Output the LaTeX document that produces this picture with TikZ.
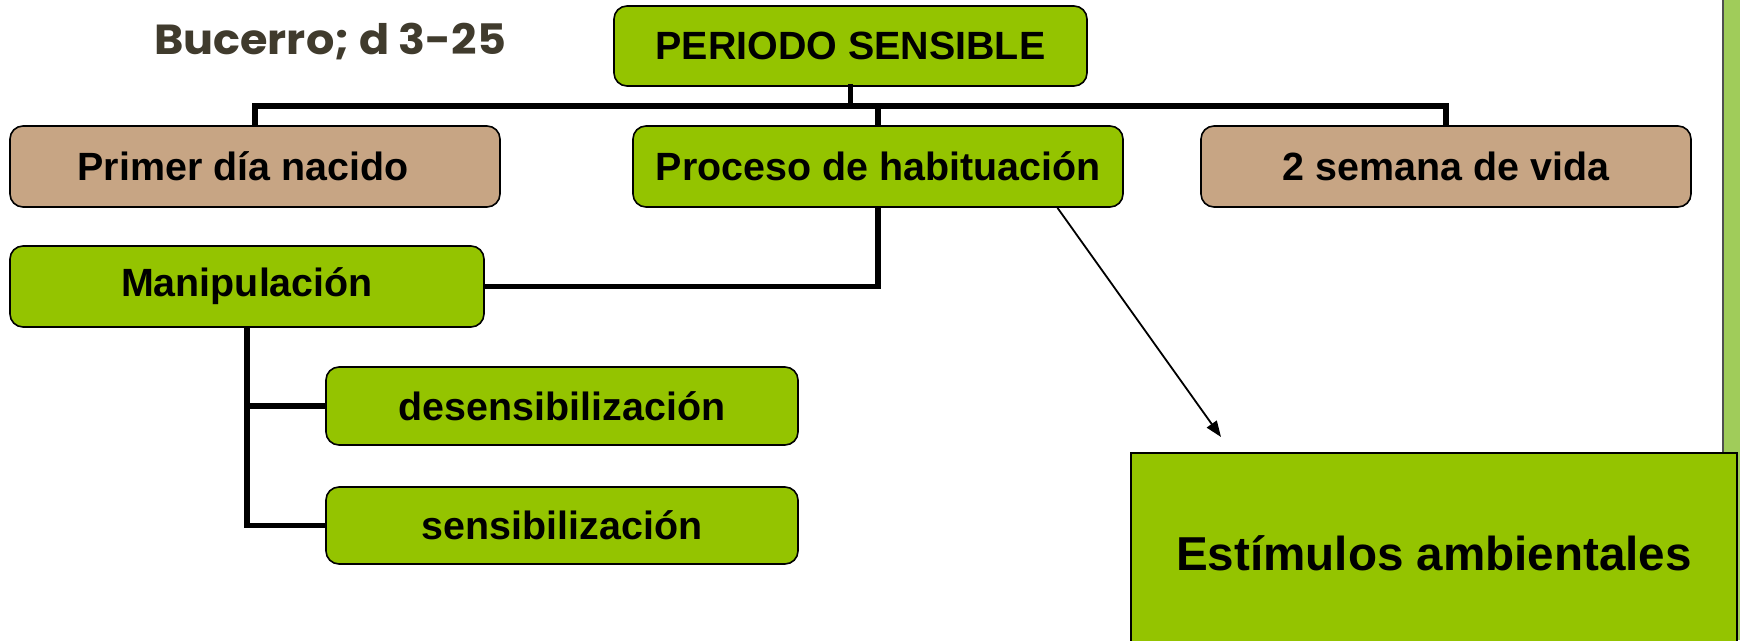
\documentclass[tikz,border=0pt]{standalone}
\usepackage{fontspec}
\setmainfont{Liberation Sans}
\newfontfamily\titlefont{Poppins}
\usetikzlibrary{arrows.meta,calc}
\definecolor{boxgreen}{RGB}{148,196,0}
\definecolor{boxtan}{RGB}{199,165,132}
\definecolor{titlecol}{RGB}{64,59,45}
\definecolor{stripegreen}{RGB}{160,204,90}
\definecolor{stripeedge}{RGB}{80,80,80}
\tikzset{
  basebox/.style={draw=black, line width=1.6pt, rounded corners=13pt, align=center,
    font=\fontsize{39.4}{42}\selectfont\bfseries, inner sep=0pt},
  greenbox/.style={basebox, fill=boxgreen},
  tanbox/.style={basebox, fill=boxtan},
  conn/.style={draw=black, line width=5.5pt, line cap=butt},
  arr/.style={draw=black, line width=1.8pt, -{Triangle[length=16pt,width=12pt]}}
}
\begin{document}
\begin{tikzpicture}[x=1pt,y=-1pt]
\clip (0,0) rectangle (1740,640);
\fill[white] (0,0) rectangle (1740,640);
% right stripe
\fill[stripegreen] (1722,0) rectangle (1740,640);
\draw[stripeedge, line width=2pt] (1723,0) -- (1723,640);
% title
\node[anchor=base west, inner sep=0pt, text=titlecol, xscale=1.06,
  font=\titlefont\bfseries\fontsize{42}{46}\selectfont] (title) at (154,54) {Bucerro; d 3-25};
% nodes
\node[greenbox, minimum width=473pt, minimum height=80pt] (per) at (850.5,46) {PERIODO SENSIBLE};
\node[tanbox, minimum width=490pt, minimum height=81pt] (primer) at (255,166.5) {Primer día nacido\hspace*{24pt}};
\node[greenbox, minimum width=490pt, minimum height=81pt] (proc) at (878,166.5) {Proceso de habituación};
\node[tanbox, minimum width=490pt, minimum height=81pt] (sem) at (1446,166.5) {2 semana de vida};
\node[greenbox, minimum width=474pt, minimum height=81pt] (manip) at (247,286.5) {Manipulación};
\node[greenbox, minimum width=472pt, minimum height=78pt] (desens) at (562,406) {desensibilización};
\node[greenbox, minimum width=472pt, minimum height=77pt] (sensib) at (562,525.5) {sensibilización};
\node[draw=black, line width=1.6pt, fill=boxgreen, minimum width=606pt, minimum height=200pt,
  inner sep=0pt, font=\fontsize{47.6}{50}\selectfont\bfseries] (estim) at (1434,553) {Estímulos ambientales};
% connectors
\coordinate (bus) at (0,106);
\coordinate (tip) at (1221,437);
\draw[conn, line cap=rect] (per.south) -- (per.south |- bus);
\draw[conn] (primer.north) -- (primer.north |- bus) -- (sem.north |- bus) -- (sem.north);
\draw[conn] (proc.north) -- (proc.north |- bus);
\draw[conn] (proc.south) |- (manip.east);
\draw[conn] (manip.south) |- (desens.west);
\draw[conn] (manip.south) |- (sensib.west);
\draw[arr] ($(proc.south)!0.73!(proc.south east)$) -- (tip);
\end{tikzpicture}
\end{document}
